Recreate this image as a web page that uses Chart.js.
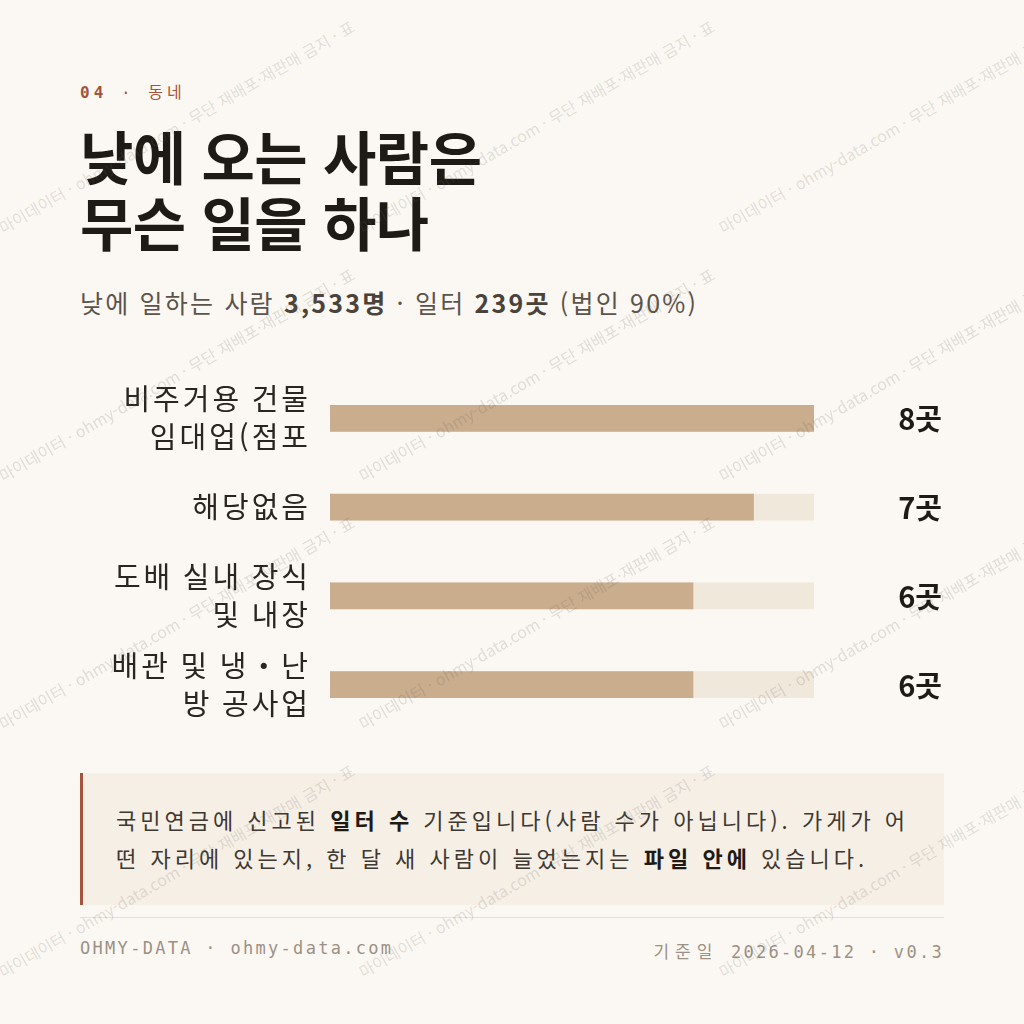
<!DOCTYPE html>
<html lang="ko">
<head>
<meta charset="utf-8">
<script src="https://cdn.jsdelivr.net/npm/chart.js@4"></script>
<style>
  body {
    margin: 0;
    width: 1024px;
    height: 1024px;
    background: #FBF8F3;
    position: relative;
    overflow: hidden;
    font-family: 'Noto Sans CJK KR', 'Noto Sans', sans-serif;
  }
  .abs { position: absolute; }
  .kicker {
    left: 80px; top: 79px;
    font: 16px 'DejaVu Sans Mono', 'Noto Sans CJK KR', monospace;
    color: #A5533A;
    letter-spacing: 4px;
  }
  .kicker b { font-weight: 700; }
  .title {
    left: 80px; top: 122px;
    font-weight: 700;
    font-size: 58px;
    line-height: 66px;
    color: #1E1A16;
    letter-spacing: -0.5px;
  }
  .subtitle {
    left: 80px; top: 284px;
    font-size: 25px;
    color: #5C544B;
    letter-spacing: 2.2px;
    white-space: nowrap;
  }
  .subtitle b { font-weight: 700; color: #4A433C; }
  .chart-wrap { left: 80px; top: 374px; width: 864px; height: 355px; }
  .note {
    left: 80px; top: 773px; width: 864px; height: 132px;
    box-sizing: border-box;
    background: #F5EFE6;
    border-left: 3px solid #A5533A;
    padding: 27px 0 0 33px;
    font-size: 22px;
    line-height: 38px;
    letter-spacing: 4px;
    color: #3E3832;
    white-space: nowrap;
  }
  .note b { color: #1E1A16; font-weight: 700; }
  .rule { left: 80px; top: 917px; width: 864px; height: 1px; background: #E7E0D5; }
  .footer {
    top: 938px;
    font: 17px 'DejaVu Sans Mono', 'Noto Sans CJK KR', monospace;
    color: #9C9184;
    letter-spacing: 2.3px;
    white-space: nowrap;
  }
  .footer.left { left: 80px; }
  .footer.right { right: 80px; }
  .footer .ko { letter-spacing: 6px; }
  .wm {
    position: absolute;
    font-size: 16px;
    color: rgba(110, 100, 90, 0.19);
    white-space: nowrap;
    transform-origin: 0 0;
    transform: rotate(-30deg);
    pointer-events: none;
  }
</style>
</head>
<body>
  <div class="abs kicker"><b>04</b> · 동네</div>
  <div class="abs title">낮에 오는 사람은<br>무슨 일을 하나</div>
  <div class="abs subtitle">낮에 일하는 사람 <b>3,533명</b> · 일터 <b>239곳</b> (법인 90%)</div>

  <div class="abs chart-wrap"><canvas id="jobChart"></canvas></div>

  <div class="abs note">국민연금에 신고된 <b>일터 수</b> 기준입니다(사람 수가 아닙니다). 가게가 어<br>떤 자리에 있는지, 한 달 새 사람이 늘었는지는 <b>파일 안에</b> 있습니다.</div>
  <div class="abs rule"></div>
  <div class="abs footer left">OHMY-DATA · ohmy-data.com</div>
  <div class="abs footer right"><span class="ko">기준일</span> 2026-04-12 · v0.3</div>

<script>
// 업종별 일터 수
const categories = [
    ['비주거용 건물', '임대업(점포'],
    ['해당없음'],
    ['도배 실내 장식', '및 내장'],
    ['배관 및 냉・난', '방 공사업']
];
const placeCounts = [8, 7, 6, 6];
const maxCount = 8;
const unitLabel = '곳';
const trackValues = placeCounts.map(() => maxCount);

const watermarkText = '마이데이터 · ohmy-data.com · 무단 재배포·재판매 금지 · 표';

// Wider tracking for the category labels
const labelSpacing = {
    id: 'labelSpacing',
    beforeDraw(chart) { chart.ctx.letterSpacing = '3px'; },
    afterDraw(chart) { chart.ctx.letterSpacing = '0px'; }
};

// Value labels on the right edge
const valueLabels = {
    id: 'valueLabels',
    afterDatasetsDraw(chart) {
        const ctx = chart.ctx;
        const meta = chart.getDatasetMeta(0);
        ctx.save();
        ctx.letterSpacing = '0px';
        ctx.font = "700 29px 'Noto Sans CJK KR', sans-serif";
        ctx.fillStyle = '#1E1A16';
        ctx.textAlign = 'right';
        ctx.textBaseline = 'middle';
        meta.data.forEach((bar, i) => {
            ctx.fillText(placeCounts[i] + unitLabel, chart.width - 2, bar.y + 1);
        });
        ctx.restore();
    }
};

const ctx = document.getElementById('jobChart').getContext('2d');
new Chart(ctx, {
    type: 'bar',
    data: {
        labels: categories,
        datasets: [
            {
                data: placeCounts,
                backgroundColor: '#C9AD8D',
                barThickness: 26,
                grouped: false,
                order: 0
            },
            {
                data: trackValues,
                backgroundColor: '#F1E8DC',
                barThickness: 26,
                grouped: false,
                order: 1
            }
        ]
    },
    options: {
        indexAxis: 'y',
        responsive: true,
        maintainAspectRatio: false,
        animation: false,
        layout: { padding: { right: 130, top: 0, bottom: 0 } },
        plugins: { legend: { display: false }, tooltip: { enabled: false } },
        scales: {
            x: { display: false, min: 0, max: maxCount },
            y: {
                grid: { display: false, drawTicks: false },
                border: { display: false },
                afterFit(scale) {
                    scale.width = 250;
                    scale.paddingTop = 0;
                    scale.paddingBottom = 0;
                },
                ticks: {
                    color: '#2A2520',
                    padding: 19,
                    font: { family: "'Noto Sans CJK KR', sans-serif", size: 29, lineHeight: 1.31 }
                }
            }
        }
    },
    plugins: [labelSpacing, valueLabels]
});

// Faint diagonal watermark tiles
for (let row = 0; row < 5; row++) {
    for (let col = 0; col < 3; col++) {
        const el = document.createElement('div');
        el.className = 'wm';
        el.textContent = watermarkText;
        el.style.left = (col * 360 - 6) + 'px';
        el.style.top = (row * 248 - 30) + 'px';
        document.body.appendChild(el);
    }
}
</script>
</body>
</html>
